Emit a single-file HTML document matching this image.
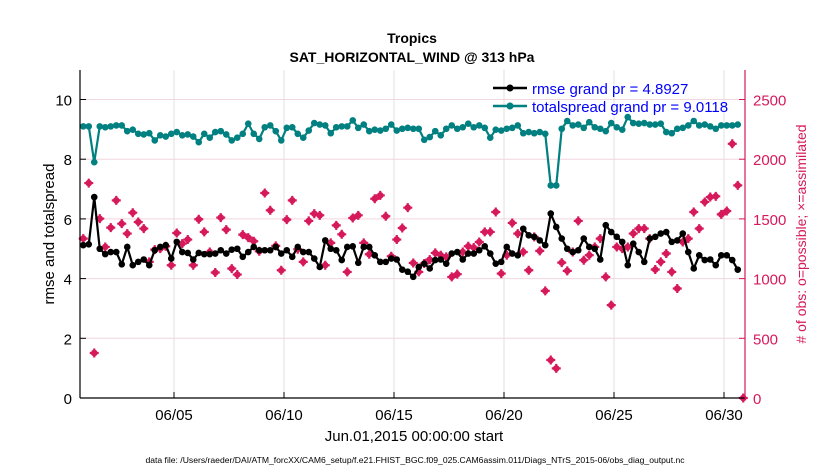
<!DOCTYPE html>
<html><head><meta charset="utf-8"><style>
body{margin:0;background:#fff;width:830px;height:470px;overflow:hidden;font-family:"Liberation Sans",sans-serif}
svg text{font-family:"Liberation Sans",sans-serif}
</style></head><body>
<svg id="chart" width="830" height="470">
<g id="grid"></g>
<g id="series"></g>
<g id="axes"></g>
<text x="412" y="43" text-anchor="middle" font-size="14" font-weight="bold">Tropics</text>
<text x="412" y="62" text-anchor="middle" font-size="14" font-weight="bold">SAT_HORIZONTAL_WIND @ 313 hPa</text>
<text transform="translate(54,234) rotate(-90)" text-anchor="middle" font-size="15">rmse and totalspread</text>
<text transform="translate(806,234) rotate(-90)" text-anchor="middle" font-size="14" fill="#d6195b"># of obs: o=possible; ×=assimilated</text>
<text x="414" y="441" text-anchor="middle" font-size="15">Jun.01,2015 00:00:00 start</text>
<text x="415" y="463" text-anchor="middle" font-size="8.6">data file: /Users/raeder/DAI/ATM_forcXX/CAM6_setup/f.e21.FHIST_BGC.f09_025.CAM6assim.011/Diags_NTrS_2015-06/obs_diag_output.nc</text>
<g>
<line x1="493" y1="88" x2="527" y2="88" stroke="#000" stroke-width="2.5"/><circle cx="510" cy="88" r="3.5" fill="#000"/>
<text x="532" y="94" font-size="15" fill="#0000ff">rmse grand pr = 4.8927</text>
<line x1="493" y1="106" x2="527" y2="106" stroke="#008080" stroke-width="2.5"/><circle cx="510" cy="106" r="3.5" fill="#008080"/>
<text x="532" y="112" font-size="15" fill="#0000ff">totalspread grand pr = 9.0118</text>
</g>
</svg>
<script>
const rmse=[5.12,5.15,6.73,5.0,4.82,4.89,4.89,4.48,5.06,4.45,4.56,4.64,4.45,4.95,5.06,5.12,4.67,5.23,4.89,4.86,4.64,4.86,4.82,4.82,4.84,4.95,4.84,4.97,5.0,4.73,4.89,5.06,4.95,4.95,4.95,5.06,4.84,4.95,4.73,5.06,4.89,4.89,4.67,4.39,5.28,5.0,4.95,4.62,5.06,5.08,4.53,5.06,5.06,4.78,4.56,4.56,4.67,4.64,4.30,4.23,4.06,
4.39,4.5,4.34,4.62,4.64,4.5,4.84,4.89,4.64,4.84,4.84,4.95,5.08,4.84,4.5,4.56,5.06,4.84,4.78,5.67,5.45,5.4,5.28,5.12,6.18,5.73,5.34,5.0,4.89,4.95,5.34,5.06,5.0,4.64,5.79,5.56,5.4,5.23,4.45,5.17,4.89,4.56,5.34,5.4,5.51,5.56,5.23,5.28,5.51,4.89,4.34,4.78,4.62,4.64,4.45,4.78,4.78,4.62,4.30];
const spread=[9.10,9.10,7.90,9.10,9.07,9.10,9.13,9.13,8.94,8.99,8.85,8.83,8.87,8.63,8.80,8.76,8.85,8.91,8.80,8.83,8.76,8.57,8.85,8.72,8.91,8.94,8.83,8.63,8.72,8.85,9.19,8.85,8.68,9.07,9.13,8.94,8.63,9.05,9.07,8.85,8.72,8.96,9.21,9.16,9.13,8.87,9.07,9.10,9.10,9.30,9.05,9.16,8.94,8.99,8.96,9.02,9.16,8.96,9.02,9.05,9.02,
9.02,8.65,8.74,8.94,8.80,9.02,9.13,9.02,9.07,9.19,9.07,9.13,9.05,8.72,8.99,8.96,9.02,9.05,9.13,8.87,8.91,8.87,8.91,8.85,7.12,7.12,9.02,9.28,9.13,9.16,9.05,9.24,9.07,9.02,8.94,9.21,9.07,8.99,9.41,9.21,9.19,9.21,9.16,9.16,9.19,8.91,8.87,9.02,9.05,9.13,9.28,9.13,9.16,9.10,9.02,9.13,9.13,9.13,9.16];
const nobs=[1335,1800,377,1502,1265,1427,1655,1460,1377,1552,1474,1419,1140,1243,1251,1271,1112,1382,1293,1327,1112,1497,1391,1223,1051,1511,1410,1084,1034,1368,1343,1313,1229,1717,1572,1274,1070,1494,1655,1246,1140,1483,1544,1530,1112,1299,1446,1371,1056,1508,1530,1299,1204,1669,1697,1522,1187,1327,1424,1594,1131,
1056,1126,1159,1215,1196,1182,1014,1037,1223,1271,1260,1307,1391,1391,1558,1042,1196,1466,1377,1223,1070,1349,1232,897,318,248,1134,1065,1223,1483,1154,1196,1265,1335,1014,778,1265,1251,1265,1377,1419,1419,1335,1076,1140,1210,1056,917,1307,1335,1558,1419,1642,1683,1689,1538,1566,2129,1781,0];
const xTicks=[5,10,15,20,25,30];
const xTickLabels=['06/05','06/10','06/15','06/20','06/25','06/30'];
const yTicks=[0,2,4,6,8,10];
const rTicks=[0,500,1000,1500,2000,2500];
const t0=0.875, dt=0.25;
const L=80,R=745,T=70,B=398;
const X=d=>174+(d-5)*22;
const Y=v=>B-v*29.85;
const YR=v=>B-v*29.85/250;
const NS='http://www.w3.org/2000/svg';
function mk(tag,attrs,parent){const e=document.createElementNS(NS,tag);for(const k in attrs)e.setAttribute(k,attrs[k]);parent.appendChild(e);return e;}
const grid=document.getElementById('grid'),ser=document.getElementById('series'),ax=document.getElementById('axes');
xTicks.forEach((d,i)=>{
 const g=mk('line',{x1:X(d),x2:X(d),y1:T,y2:B,stroke:'#e2e2e2','stroke-width':1},grid);
 
 
 mk('line',{x1:X(d),x2:X(d),y1:B,y2:B-6,stroke:'#000'},ax);
 const tx=mk('text',{x:X(d),y:B+22,'text-anchor':'middle','font-size':15},ax);
 tx.textContent=xTickLabels[i];
 
 
});
rTicks.forEach(v=>{
 if(v>0){const g=mk('line',{x1:L,x2:R,y1:YR(v),y2:YR(v),stroke:'#f0d6de','stroke-width':1},grid);
 
 }
 mk('line',{x1:R,x2:R-6,y1:YR(v),y2:YR(v),stroke:'#d6195b'},ax);
 const tx=mk('text',{x:R+8,y:YR(v)+6,'font-size':15,fill:'#d6195b'},ax);
 tx.textContent=v;
 
 
});
yTicks.forEach(v=>{
 mk('line',{x1:L,x2:L+6,y1:Y(v),y2:Y(v),stroke:'#000'},ax);
 const tx=mk('text',{x:L-8,y:Y(v)+6,'text-anchor':'end','font-size':15},ax);
 tx.textContent=v;
 
 
});
mk('line',{x1:L,x2:L,y1:T,y2:B,stroke:'#000','stroke-width':1.2},ax);
mk('line',{x1:L,x2:R,y1:B,y2:B,stroke:'#000','stroke-width':1.2},ax);
mk('line',{x1:R,x2:R,y1:T,y2:B,stroke:'#d6195b','stroke-width':1.2},ax);
nobs.forEach((v,i)=>{
 const cx=X(t0+i*dt),cy=YR(v);
 const g=mk('g',{},ser);
 
 
 mk('circle',{cx:cx,cy:cy,r:3.3,fill:'#d6195b'},g);
 mk('path',{d:`M${cx-4.5} ${cy}H${cx+4.5}M${cx} ${cy-4.5}V${cy+4.5}`,stroke:'#d6195b','stroke-width':2.2},g);
});
function line(arr,color,name){
 const pts=arr.map((v,i)=>X(t0+i*dt)+','+Y(v)).join(' ');
 const pl=mk('polyline',{points:pts,fill:'none',stroke:color,'stroke-width':2.2},ser);
 
 
 arr.forEach((v,i)=>{
  const c=mk('circle',{cx:X(t0+i*dt),cy:Y(v),r:3.3,fill:color},ser);
  
  
 });
}
line(spread,'#008080','totalspread');
line(rmse,'#000000','rmse');
</script>
</body></html>
